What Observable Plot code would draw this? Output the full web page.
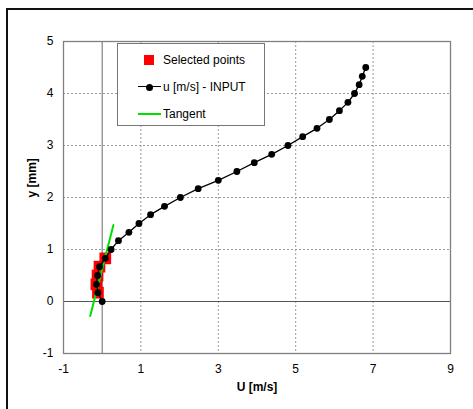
<!DOCTYPE html>
<html>
<head>
<meta charset="utf-8">
<script src="https://cdn.jsdelivr.net/npm/d3@7"></script>
<script src="https://cdn.jsdelivr.net/npm/@observablehq/plot@0.6"></script>
<style>
  html, body { margin: 0; padding: 0; background: #fff; }
  body { width: 473px; height: 409px; overflow: hidden; position: relative; font-family: "Liberation Sans", Arial, sans-serif; }
  #chart { position: absolute; left: 0; top: 0; }
  #outer { position: absolute; left: 6px; top: 8px; width: 480px; height: 420px; border-left: 2px solid #111; border-top: 2px solid #111; box-sizing: border-box; pointer-events: none; }
  #legend { position: absolute; left: 117px; top: 43px; width: 148px; height: 83px; box-sizing: border-box; border: 1px solid #777; background: #fff; font-size: 12px; color: #000; }
  .item { position: absolute; left: 0; height: 14px; width: 148px; }
  .item span.t { position: absolute; left: 45px; top: 0; line-height: 14px; white-space: nowrap; }
  .sym { position: absolute; }
</style>
</head>
<body>
<div id="chart"></div>
<div id="outer"></div>
<div id="legend"></div>
<script>
// Data
const uValues = [0, -0.11, -0.15, -0.12, -0.07, 0.08, 0.23, 0.42, 0.69, 0.95, 1.25, 1.61, 2.02, 2.48, 3.0, 3.48, 3.93, 4.38, 4.8, 5.18, 5.55, 5.87, 6.13, 6.35, 6.52, 6.64, 6.72, 6.81];
const yValues = [0, 0.17, 0.33, 0.5, 0.67, 0.83, 1.0, 1.17, 1.33, 1.5, 1.67, 1.83, 2.0, 2.17, 2.33, 2.5, 2.67, 2.83, 3.0, 3.17, 3.33, 3.5, 3.67, 3.83, 4.0, 4.17, 4.33, 4.5];
const selectedIndex = [1, 2, 3, 4, 5];
const tangentU = [-0.31, 0.29];
const tangentY = [-0.28, 1.47];
const xTicks = [-1, 1, 3, 5, 7, 9];
const yTicks = [-1, 0, 1, 2, 3, 4, 5];
const xGrid = [1, 3, 5, 7];
const yGrid = [1, 2, 3, 4];
const xTitle = "U [m/s]";
const yTitle = "y [mm]";
const legendLabels = ["Selected points", "u [m/s] - INPUT", "Tangent"];

const profile = uValues.map((u, i) => ({u, y: yValues[i]}));
const selected = selectedIndex.map(i => profile[i]);
const tangent = tangentU.map((u, i) => ({u, y: tangentY[i]}));

const chart = Plot.plot({
  width: 473,
  height: 409,
  marginLeft: 63,
  marginRight: 23,
  marginTop: 41,
  marginBottom: 56,
  style: {fontFamily: "'Liberation Sans', Arial, sans-serif", fontSize: "12px", background: "#fff", color: "#000"},
  x: {domain: [-1, 9]},
  y: {domain: [-1, 5]},
  marks: [
    Plot.ruleX(xGrid, {stroke: "#999", strokeDasharray: "2,2", strokeWidth: 1}),
    Plot.ruleY(yGrid, {stroke: "#999", strokeDasharray: "2,2", strokeWidth: 1}),
    Plot.ruleX([0], {stroke: "#808080", strokeWidth: 1.2}),
    Plot.ruleY([0], {stroke: "#555", strokeWidth: 1.2}),
    Plot.frame({stroke: "#808080", strokeWidth: 1.3}),
    Plot.axisX({ticks: xTicks, tickSize: 0, tickPadding: 11, tickFormat: d => String(d), label: null, fontSize: 12}),
    Plot.axisY({ticks: yTicks, tickSize: 0, tickPadding: 10, tickFormat: d => String(d), label: null, fontSize: 12}),
    Plot.dot(selected, {x: "u", y: "y", symbol: "square", r: 6.6, fill: "#ff0000", stroke: "none"}),
    Plot.line(tangent, {x: "u", y: "y", stroke: "#00e000", strokeWidth: 2}),
    Plot.line(profile, {x: "u", y: "y", stroke: "#000", strokeWidth: 1.3}),
    Plot.dot(profile, {x: "u", y: "y", r: 3.4, fill: "#000", stroke: "none"}),
    Plot.text([xTitle], {frameAnchor: "bottom", dy: 37, text: d => d, fontWeight: "bold", fontSize: 12}),
    Plot.text([yTitle], {frameAnchor: "left", dx: -31, rotate: -90, text: d => d, fontWeight: "bold", fontSize: 12})
  ]
});
document.getElementById("chart").appendChild(chart);

// Legend (HTML)
const legend = document.getElementById("legend");
const rows = [9, 36, 63];
legendLabels.forEach((lab, i) => {
  const it = document.createElement("div");
  it.className = "item";
  it.style.top = rows[i] + "px";
  const s = document.createElement("div");
  s.className = "sym";
  if (i === 0) {
    Object.assign(s.style, {left: "26px", top: "2px", width: "10px", height: "10px", background: "#ff0000"});
    it.appendChild(s);
  } else if (i === 1) {
    Object.assign(s.style, {left: "20px", top: "6px", width: "23px", height: "1.3px", background: "#000"});
    it.appendChild(s);
    const d = document.createElement("div");
    d.className = "sym";
    Object.assign(d.style, {left: "28px", top: "3.5px", width: "7px", height: "7px", borderRadius: "50%", background: "#000"});
    it.appendChild(d);
  } else {
    Object.assign(s.style, {left: "20px", top: "6px", width: "23px", height: "2px", background: "#00e000"});
    it.appendChild(s);
  }
  const t = document.createElement("span");
  t.className = "t";
  t.textContent = lab;
  it.appendChild(t);
  legend.appendChild(it);
});
</script>
</body>
</html>
